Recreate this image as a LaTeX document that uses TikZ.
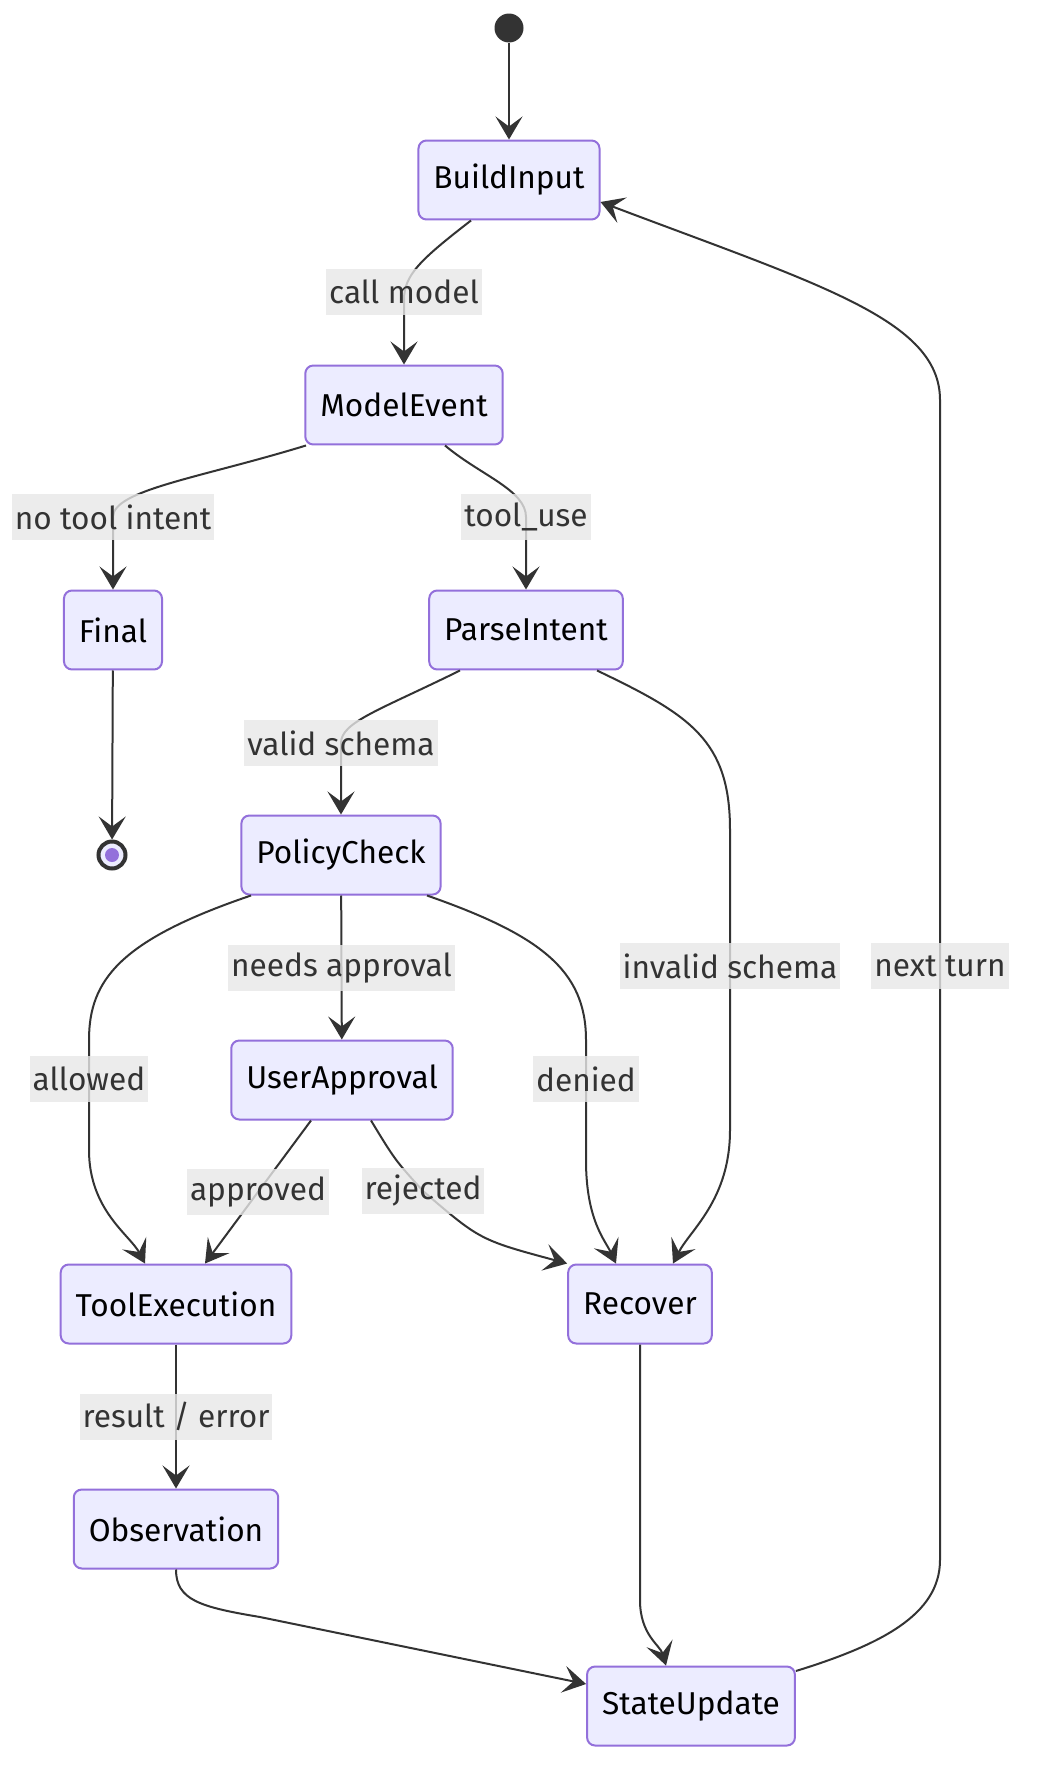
\documentclass[tikz,border=0pt]{standalone}
\usepackage{fontspec}
\setmainfont{Fira Sans}
\usetikzlibrary{arrows.meta, positioning, calc}
\definecolor{statefill}{RGB}{236,236,255}
\definecolor{stateline}{RGB}{147,112,219}
\definecolor{edgegray}{RGB}{51,51,51}
\definecolor{labelbg}{RGB}{232,232,232}

\begin{document}
\begin{tikzpicture}[
    x=0.02cm, y=-0.02cm,
    arr/.style={-{Stealth[length=0.46cm, width=0.54cm, inset=0.2cm]},
                line width=0.04cm, color=edgegray},
    lbl/.style={fill=labelbg, fill opacity=0.8, text opacity=1, text=edgegray,
                inner xsep=0.06cm, minimum height=0.92cm,
                font=\fontsize{18}{21}\selectfont},
    box/.style={draw=stateline, fill=statefill, line width=0.04cm,
                rounded corners=0.16cm, minimum height=1.58cm,
                inner xsep=0.3cm, font=\fontsize{18}{21}\selectfont},
    startdot/.style={circle, fill=edgegray, minimum size=0.58cm, inner sep=0pt},
    enddot/.style={circle, draw=edgegray, fill=statefill, line width=0.08cm,
                   minimum size=0.54cm, inner sep=0pt,
                   path picture={\fill[stateline] (path picture bounding box.center) circle (0.14cm);}}
  ]
    \fill[white] (0,0) rectangle (1038,1788);
    \useasboundingbox (0,0) rectangle (1038,1788);

    \node[startdot] (init) at (509,28) {};
    \node[box] (bi) at (509,180) {BuildInput};
    \node[box] (me) at (404,405) {ModelEvent};
    \node[box] (fin) at (113,630) {Final};
    \node[box] (pi) at (526,630) {ParseIntent};
    \node[enddot] (done) at (112,855) {};
    \node[box] (pc) at (341,855) {PolicyCheck};
    \node[box] (ua) at (342,1080) {UserApproval};
    \node[box] (te) at (176,1304) {ToolExecution};
    \node[box] (rc) at (640,1304) {Recover};
    \node[box] (obs) at (176,1529) {Observation};
    \node[box] (su) at (691,1706) {StateUpdate};

    \draw[arr] (init) -- (bi);
    \draw[arr] ($(bi.south)+(-38,0)$) .. controls (420,260) and (404,275) .. (404,300)
      node[lbl] at (404,292) {call model} -- (me.north);
    \draw[arr] ($(me.south)+(-98,0)$) .. controls (200,478) and (113,490) .. (113,517)
      node[lbl] {no tool intent} -- (fin.north);
    \draw[arr] ($(me.south)+(41,0)$) .. controls (480,475) and (526,490) .. (526,517)
      node[lbl] {tool\_use} -- (pi.north);
    \draw[arr] (fin) -- (done);
    \draw[arr] ($(pi.south)+(-66,0)$) .. controls (380,710) and (341,722) .. (341,743)
      node[lbl] {valid schema} -- (pc.north);
    \draw[arr] ($(pi.south)+(71,0)$) .. controls (690,715) and (730,740) .. (730,830)
      -- (730,966) node[lbl] {invalid schema} -- (730,1130)
      .. controls (730,1200) and (690,1230) .. ($(rc.north)+(33,0)$);
    \draw[arr] (pc) -- node[lbl] {needs approval} (ua);
    \draw[arr] ($(pc.south)+(-90,0)$) .. controls (120,940) and (89,980) .. (89,1040)
      -- (89,1079) node[lbl] {allowed} -- (89,1150)
      .. controls (89,1210) and (130,1235) .. ($(te.north)+(-31,0)$);
    \draw[arr] ($(pc.south)+(86,0)$) .. controls (540,935) and (586,970) .. (586,1040)
      -- (586,1079) node[lbl] {denied} -- (586,1160)
      .. controls (586,1220) and (605,1240) .. ($(rc.north)+(-24,0)$);
    \draw[arr] ($(ua.south)+(-31,0)$) -- node[lbl] {approved} ($(te.north)+(29,0)$);
    \draw[arr] ($(ua.south)+(29,0)$) .. controls (395,1160) .. (423,1191)
      node[lbl] {rejected} .. controls (480,1240) .. (rc.north west);
    \draw[arr] (te) -- node[lbl] {result / error} (obs);
    \draw[arr] (obs.south) .. controls (176,1600) and (200,1607) .. (260,1617)
      -- ($(su.west)+(0,-22)$);
    \draw[arr] (rc.south) -- (640,1600) .. controls (640,1635) and (660,1645)
      .. ($(su.north)+(-25,0)$);
    \draw[arr] ($(su.east)+(0,-35)$) .. controls (880,1645) and (940,1615) .. (940,1560)
      -- (940,966) node[lbl] {next turn} -- (940,400)
      .. controls (940,320) and (820,285) .. ($(bi.east)+(0,22)$);
  \end{tikzpicture}
\end{document}
